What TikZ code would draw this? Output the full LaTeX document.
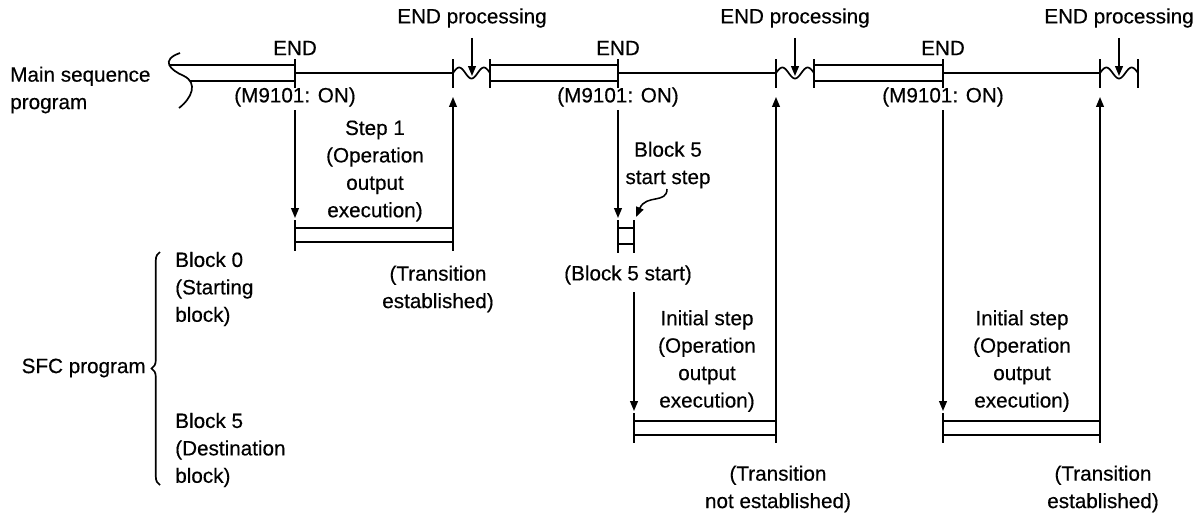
\documentclass[tikz,border=0pt]{standalone}
\usepackage{fontspec}
\setmainfont{Liberation Sans}[FakeBold=0.4]
\usetikzlibrary{arrows.meta,calc,decorations.pathreplacing}

\tikzset{
  txt/.style={align=center,inner sep=0pt,font=\fontsize{14.7}{19.5}\selectfont},
  thin line/.style={line width=1.2pt},
  endtick/.style={line width=2pt},
  flow/.style={line width=1.1pt,-{Triangle[length=7pt,width=5.5pt]}},
}

\begin{document}
\begin{tikzpicture}[x=0.025cm,y=-0.025cm]
  \useasboundingbox (0,0) rectangle (1204,515);

  % main sequence program
  \node[txt,anchor=west,align=left] (main) at (10,90) {Main sequence\\program};
  \draw[thin line] (180,53) .. controls (160,60) and (170,70) .. (184,76)
                   .. controls (198,83) and (192,98) .. (179,108);

  \foreach \c/\px in {e1/295,p1l/453,p1r/490,e2/618,p2l/776,p2r/814,e3/943,p3l/1100,p3r/1138}
    \coordinate (\c) at (\px,73);

  % scan lines
  \draw[thin line] (169,65) -- ($(e1)+(0,-8)$) (190,81) -- ($(e1)+(0,8)$);
  \foreach \a/\b in {p1r/e2,p2r/e3}
    \draw[thin line] ($(\a)+(0,-8)$) -- ($(\b)+(0,-8)$) ($(\a)+(0,8)$) -- ($(\b)+(0,8)$);
  \foreach \a/\b in {e1/p1l,e2/p2l,e3/p3l}
    \draw[thin line] (\a) -- (\b);
  \foreach \c in {e1,p1l,p1r,e2,p2l,p2r,e3,p3l,p3r}
    \draw[endtick] ($(\c)+(0,-14)$) -- ($(\c)+(0,15)$);

  % END processing
  \foreach \a/\w in {453/37,776/38,1100/38}
    \draw[thin line] plot[domain=0:1,samples=40,smooth] ({\a+\w*\x},{73-5.5*sin(540*\x)});
  \foreach \n/\px in {ep1/472,ep2/795,ep3/1119} {
    \node[txt] (\n) at (\px,18) {END processing};
    \coordinate (\n-in) at (\px,76);
    \draw[flow] ($(\n.south)+(0,10)$) -- (\n-in);
  }

  % END points
  \foreach \c/\n in {e1/end1,e2/end2,e3/end3} {
    \node[txt] (\n) at ($(\c)+(0,-25)$) {END};
    \node[txt] (\n-on) at ($(\c)+(0,24)$) {(M9101: ON)};
  }

  % block 0, step 1
  \coordinate (s1l) at (295,235);
  \coordinate (s1r) at (453,235);
  \draw[thin line] ($(s1l)+(0,-7)$) -- ($(s1r)+(0,-7)$) ($(s1l)+(0,7)$) -- ($(s1r)+(0,7)$);
  \draw[endtick] ($(s1l)+(0,-15)$) -- ($(s1l)+(0,16)$);
  \draw[endtick] ($(s1r)+(0,-15)$) -- ($(s1r)+(0,16)$);
  \draw[flow] ($(e1)+(0,37)$) -- ($(s1l)+(0,-17)$);
  \draw[flow] ($(s1r)+(0,-15)$) -- ($(p1l)+(0,24)$);
  \node[txt] (step1) at (375,171) {Step 1\\(Operation\\output\\execution)};
  \node[txt] (tr1) at (438,289) {(Transition\\established)};

  % block 5 start step
  \coordinate (hl) at (618,236);
  \coordinate (hr) at (634,236);
  \draw[thin line] ($(hl)+(0,-8)$) -- ($(hr)+(0,-8)$) ($(hl)+(0,8)$) -- ($(hr)+(0,8)$);
  \draw[endtick] ($(hl)+(0,-16)$) -- ($(hl)+(0,17)$);
  \draw[endtick] ($(hr)+(0,-16)$) -- ($(hr)+(0,17)$);
  \draw[flow] ($(e2)+(0,37)$) -- ($(hl)+(0,-18)$);
  \node[txt] (b5s) at (668,165) {Block 5\\start step};
  \draw[flow] (667,189) .. controls (667,204) and (646,194) .. ($(hr)+(2,-19)$);
  \node[txt] (b5start) at (628,275) {(Block 5 start)};

  % block 5, initial step (1st scan)
  \coordinate (i2l) at (634,428);
  \coordinate (i2r) at (776,428);
  \draw[thin line] ($(i2l)+(0,-7)$) -- ($(i2r)+(0,-7)$) ($(i2l)+(0,7)$) -- ($(i2r)+(0,7)$);
  \draw[endtick] ($(i2l)+(0,-15)$) -- ($(i2l)+(0,15)$);
  \draw[endtick] ($(i2r)+(0,-15)$) -- ($(i2r)+(0,15)$);
  \draw[flow] (634,292) -- ($(i2l)+(0,-17)$);
  \draw[flow] ($(i2r)+(0,-15)$) -- ($(p2l)+(0,24)$);
  \node[txt] (init2) at (707,361) {Initial step\\(Operation\\output\\execution)};
  \node[txt] (tr2) at (778,489) {(Transition\\not established)};

  % block 5, initial step (2nd scan)
  \coordinate (i3l) at (943,428);
  \coordinate (i3r) at (1100,428);
  \draw[thin line] ($(i3l)+(0,-7)$) -- ($(i3r)+(0,-7)$) ($(i3l)+(0,7)$) -- ($(i3r)+(0,7)$);
  \draw[endtick] ($(i3l)+(0,-15)$) -- ($(i3l)+(0,15)$);
  \draw[endtick] ($(i3r)+(0,-15)$) -- ($(i3r)+(0,15)$);
  \draw[flow] ($(e3)+(0,37)$) -- ($(i3l)+(0,-17)$);
  \draw[flow] ($(i3r)+(0,-15)$) -- ($(p3l)+(0,24)$);
  \node[txt] (init3) at (1022,361) {Initial step\\(Operation\\output\\execution)};
  \node[txt] (tr3) at (1103,489) {(Transition\\established)};

  % SFC program
  \node[txt,anchor=west,align=left] (blk0) at (175,289) {Block 0\\(Starting\\block)};
  \node[txt,anchor=west,align=left] (blk5) at (175,450) {Block 5\\(Destination\\block)};
  \draw[thin line,decorate,decoration={brace,amplitude=6pt}] (160,485) -- (160,252);
  \node[txt,anchor=east] (sfc) at (146,368) {SFC program};
\end{tikzpicture}
\end{document}
